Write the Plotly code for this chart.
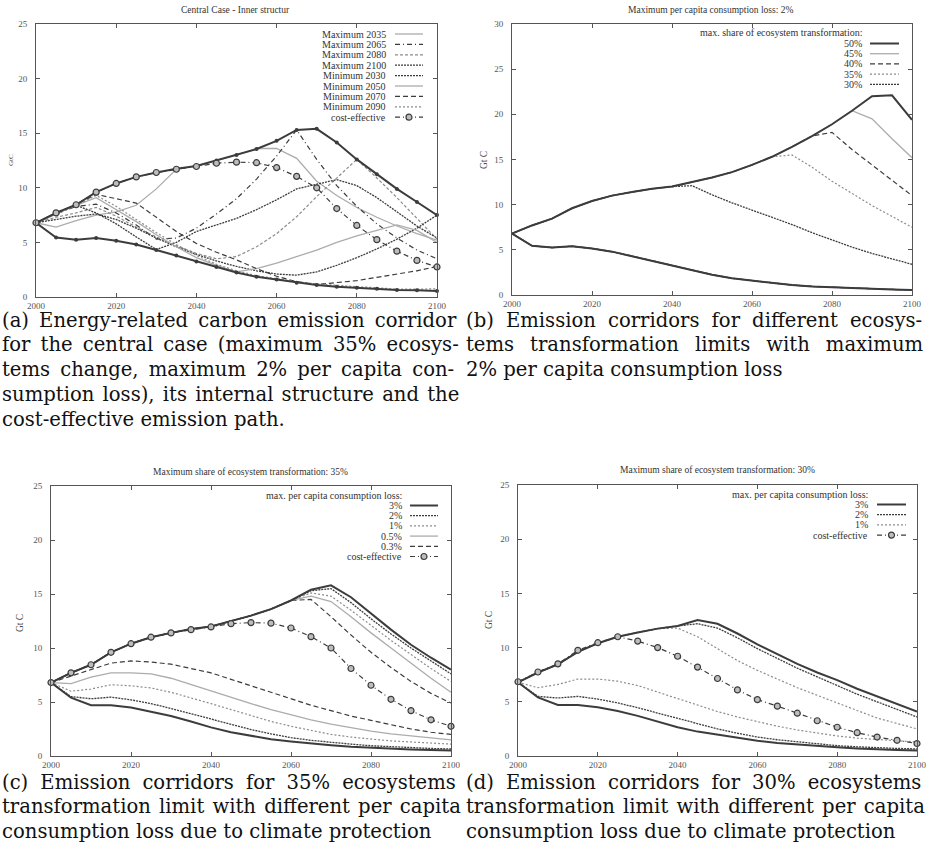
import plotly.graph_objects as go

W, H = 928, 850

# ---------------------------------------------------------------- data
YEARS = list(range(2000, 2101, 5))
X_TICKS = [2000, 2020, 2040, 2060, 2080, 2100]

# (a) central case: corridor bounds, inner structure and cost-effective path
A_UPPER = [6.8, 7.7, 8.45, 9.6, 10.4, 11.0, 11.4, 11.75, 12.0, 12.5, 13.0,
           13.55, 14.3, 15.3, 15.4, 14.15, 12.6, 11.25, 9.9, 8.7, 7.5]
A_LOWER = [6.8, 5.45, 5.25, 5.4, 5.15, 4.8, 4.3, 3.8, 3.25, 2.75, 2.25,
           1.85, 1.6, 1.3, 1.1, 0.95, 0.85, 0.75, 0.65, 0.62, 0.55]
COST_EFFECTIVE = [6.8, 7.7, 8.45, 9.6, 10.4, 11.0, 11.4, 11.7, 11.95, 12.25, 12.35,
                  12.3, 11.85, 11.05, 10.0, 8.1, 6.55, 5.25, 4.2, 3.35, 2.75]
MAX_2035 = [6.8, 6.4, 7.0, 7.5, 7.8, 8.4, 9.9, 11.7, 12.0, 12.5, 13.0,
            13.6, 13.6, 12.7, 10.6, 9.3, 8.2, 7.3, 6.5, 5.8, 5.2]
MAX_2065 = [6.8, 7.6, 8.3, 8.5, 7.7, 6.6, 5.3, 5.4, 6.3, 7.6, 9.0,
            10.8, 12.9, 15.3, 12.6, 10.2, 8.3, 6.7, 5.4, 4.3, 3.5]
MAX_2080 = [6.8, 7.3, 7.7, 8.2, 7.4, 6.4, 5.5, 4.7, 4.0, 3.5, 3.7,
            4.6, 5.8, 7.35, 9.2, 10.9, 12.6, 10.9, 9.1, 7.2, 5.3]
MAX_2100 = [6.8, 7.1, 7.4, 7.6, 7.1, 6.3, 5.4, 4.6, 3.9, 3.3, 2.8,
            2.4, 2.1, 2.0, 2.3, 2.9, 3.6, 4.4, 5.3, 6.3, 7.5]
MIN_2030 = [6.8, 7.6, 8.4, 7.7, 6.7, 5.5, 4.35, 5.0, 6.0, 6.6, 7.2,
            8.0, 8.9, 9.9, 10.3, 10.75, 10.2, 9.1, 7.8, 6.5, 5.4]
MIN_2050 = [6.8, 7.6, 8.4, 9.1, 8.0, 6.9, 5.7, 4.6, 3.6, 2.9, 2.3,
            2.6, 3.1, 3.7, 4.3, 5.0, 5.6, 6.1, 6.6, 6.1, 5.0]
MIN_2070 = [6.8, 7.7, 8.45, 9.4, 9.0, 8.6, 7.3, 6.0, 4.9, 4.1, 3.4,
            2.6, 1.9, 1.4, 1.15, 1.3, 1.5, 1.8, 2.1, 2.4, 2.8]
MIN_2090 = [6.8, 7.6, 8.4, 9.3, 8.3, 7.1, 5.9, 4.8, 3.8, 3.0, 2.4,
            1.95, 1.65, 1.4, 1.2, 1.05, 0.95, 0.85, 0.72, 0.72, 0.75]

# (b) upper bounds per ecosystem-transformation limit (2% consumption loss)
B_UPPER_50 = [6.8, 7.7, 8.45, 9.6, 10.4, 11.0, 11.4, 11.75, 12.0, 12.5, 13.0,
              13.6, 14.4, 15.3, 16.4, 17.6, 18.9, 20.4, 22.0, 22.1, 19.4]
B_UPPER_45 = [6.8, 7.7, 8.45, 9.6, 10.4, 11.0, 11.4, 11.75, 12.0, 12.5, 13.0,
              13.6, 14.4, 15.3, 16.4, 17.6, 18.9, 20.4, 19.5, 17.3, 15.2]
B_UPPER_40 = [6.8, 7.7, 8.45, 9.6, 10.4, 11.0, 11.4, 11.75, 12.0, 12.5, 13.0,
              13.6, 14.4, 15.3, 16.4, 17.6, 18.0, 16.1, 14.4, 12.7, 11.0]
B_UPPER_35 = [6.8, 7.7, 8.45, 9.6, 10.4, 11.0, 11.4, 11.75, 12.0, 12.5, 13.0,
              13.6, 14.4, 15.3, 15.5, 14.15, 12.6, 11.25, 9.9, 8.7, 7.5]
B_UPPER_30 = [6.8, 7.7, 8.45, 9.6, 10.4, 11.0, 11.4, 11.75, 12.0, 12.1, 11.1,
              10.2, 9.4, 8.6, 7.8, 6.9, 6.1, 5.3, 4.6, 4.0, 3.4]
B_LOWER = [6.8, 5.45, 5.25, 5.4, 5.15, 4.8, 4.3, 3.8, 3.25, 2.75, 2.25,
           1.85, 1.6, 1.3, 1.1, 0.95, 0.85, 0.75, 0.65, 0.62, 0.55]

# (c) 35% ecosystem transformation, different consumption-loss limits
C_UPPER_3 = [6.8, 7.7, 8.45, 9.6, 10.4, 11.0, 11.4, 11.75, 12.0, 12.5, 13.0,
             13.6, 14.4, 15.4, 15.8, 14.7, 13.2, 11.7, 10.3, 9.1, 8.0]
C_UPPER_2 = [6.8, 7.7, 8.45, 9.6, 10.4, 11.0, 11.4, 11.75, 12.0, 12.5, 13.0,
             13.6, 14.4, 15.3, 15.5, 14.2, 12.7, 11.3, 10.0, 8.8, 7.6]
C_UPPER_1 = [6.8, 7.7, 8.45, 9.6, 10.4, 11.0, 11.4, 11.75, 12.0, 12.5, 13.0,
             13.6, 14.4, 15.1, 14.8, 13.5, 12.1, 10.7, 9.4, 8.1, 6.9]
C_UPPER_05 = [6.8, 7.7, 8.45, 9.6, 10.4, 11.0, 11.4, 11.75, 12.0, 12.5, 13.0,
              13.6, 14.4, 14.8, 14.3, 12.9, 11.4, 10.0, 8.6, 7.2, 5.9]
C_UPPER_03 = [6.8, 7.7, 8.45, 9.6, 10.4, 11.0, 11.4, 11.75, 12.0, 12.5, 13.0,
              13.6, 14.4, 14.5, 12.9, 11.2, 9.6, 8.2, 6.9, 5.8, 4.9]
C_LOWER_3 = [6.8, 5.4, 4.7, 4.7, 4.5, 4.1, 3.7, 3.2, 2.65, 2.2, 1.85,
             1.55, 1.35, 1.15, 1.0, 0.85, 0.75, 0.65, 0.6, 0.55, 0.5]
C_LOWER_2 = [6.8, 5.5, 5.3, 5.45, 5.2, 4.85, 4.4, 3.9, 3.4, 2.9, 2.45,
             2.05, 1.7, 1.45, 1.25, 1.1, 0.95, 0.85, 0.75, 0.7, 0.65]
C_LOWER_1 = [6.8, 6.0, 6.2, 6.6, 6.5, 6.3, 5.9, 5.4, 4.85, 4.3, 3.75,
             3.2, 2.75, 2.35, 2.0, 1.75, 1.55, 1.4, 1.3, 1.2, 1.1]
C_LOWER_05 = [6.8, 6.7, 7.3, 7.7, 7.7, 7.6, 7.2, 6.6, 6.0, 5.4, 4.85,
              4.3, 3.8, 3.35, 2.95, 2.6, 2.3, 2.05, 1.85, 1.65, 1.5]
C_LOWER_03 = [6.8, 7.4, 8.0, 8.6, 8.8, 8.7, 8.5, 8.1, 7.7, 7.1, 6.5,
              5.9, 5.3, 4.7, 4.2, 3.7, 3.3, 2.9, 2.5, 2.2, 2.0]

# (d) 30% ecosystem transformation, different consumption-loss limits
D_UPPER_3 = [6.8, 7.7, 8.45, 9.6, 10.4, 11.0, 11.4, 11.75, 12.0, 12.55, 12.2,
             11.3, 10.3, 9.4, 8.5, 7.7, 7.0, 6.2, 5.5, 4.8, 4.1]
D_UPPER_2 = [6.8, 7.7, 8.45, 9.6, 10.4, 11.0, 11.4, 11.75, 12.0, 12.2, 11.8,
             10.9, 9.9, 9.0, 8.1, 7.3, 6.5, 5.7, 5.0, 4.3, 3.6]
D_UPPER_1 = [6.8, 7.7, 8.45, 9.6, 10.4, 11.0, 11.4, 11.75, 11.8, 11.0, 9.9,
             8.8, 7.9, 7.1, 6.3, 5.6, 4.9, 4.2, 3.5, 3.0, 2.5]
D_COST_EFFECTIVE = [6.85, 7.75, 8.5, 9.75, 10.45, 11.0, 10.6, 10.0, 9.2, 8.2, 7.15,
                    6.1, 5.2, 4.6, 3.95, 3.25, 2.65, 2.15, 1.75, 1.45, 1.15]
D_LOWER_3 = [6.8, 5.4, 4.7, 4.7, 4.5, 4.15, 3.7, 3.2, 2.65, 2.25, 1.95,
             1.65, 1.4, 1.2, 1.05, 0.9, 0.8, 0.7, 0.6, 0.55, 0.5]
D_LOWER_2 = [6.8, 5.5, 5.35, 5.5, 5.25, 4.9, 4.45, 3.95, 3.45, 2.95, 2.5,
             2.1, 1.75, 1.5, 1.3, 1.1, 0.95, 0.85, 0.75, 0.7, 0.65]
D_LOWER_1 = [6.8, 6.3, 6.6, 7.1, 7.1, 6.9, 6.5, 5.9, 5.25, 4.7, 4.1,
             3.6, 3.15, 2.75, 2.4, 2.1, 1.85, 1.65, 1.5, 1.4, 1.3]

TITLES = ["Central Case - Inner structur",
          "Maximum per capita consumption loss: 2%",
          "Maximum share of ecosystem transformation: 35%",
          "Maximum share of ecosystem transformation: 30%"]

CAPTIONS = {
    "a": ["(a) Energy-related carbon emission corridor",
          "for the central case (maximum 35% ecosys-",
          "tems change, maximum 2% per capita con-",
          "sumption loss), its internal structure and the",
          "cost-effective emission path."],
    "b": ["(b) Emission corridors for different ecosys-",
          "tems transformation limits with maximum",
          "2% per capita consumption loss"],
    "c": ["(c) Emission corridors for 35% ecosystems",
          "transformation limit with different per capita",
          "consumption loss due to climate protection"],
    "d": ["(d) Emission corridors for 30% ecosystems",
          "transformation limit with different per capita",
          "consumption loss due to climate protection"],
}

# ---------------------------------------------------------------- styles
DARK = "#3c3c3c"
LIGHT = "#acacac"
MID = "#8c8c8c"
SERIF = "Liberation Serif, Times New Roman, serif"
CAPTION_FONT = "DejaVu Serif, serif"

THIN, HAIR = "\u2009", "\u200a"
# extra word spacing per caption line, so that the block reads justified
CAPTION_GAPS = {
    "a": [THIN, THIN, THIN, HAIR, ""],
    "b": [THIN + HAIR, THIN + THIN + HAIR, ""],
    "c": [THIN + HAIR, HAIR, ""],
    "d": [THIN + HAIR, HAIR, ""],
}

STY = {
    "thick":   dict(color=DARK, width=2.0, dash="solid"),
    "dense":   dict(color=DARK, width=1.3, dash="2px,1px"),
    "dashed":  dict(color=DARK, width=1.2, dash="5px,3px"),
    "lsolid":  dict(color=LIGHT, width=1.3, dash="solid"),
    "ldot":    dict(color=MID, width=1.2, dash="2px,2px"),
    "ldash":   dict(color=MID, width=1.2, dash="3px,2px"),
    "dashdot": dict(color=DARK, width=1.2, dash="5px,3px,1px,3px"),
}

# plot-area boxes in pixels: (left, right, top, bottom)
BOX = {
    "a": (36, 437, 24, 297),
    "b": (512, 912, 24, 295),
    "c": (51, 451, 486, 756),
    "d": (518, 917, 485, 756),
}
YMAX = {"a": 25, "b": 30, "c": 25, "d": 25}
AX = {"a": ("x", "y"), "b": ("x2", "y2"), "c": ("x3", "y3"), "d": ("x4", "y4")}


def px(x):
    return x / W


def py(y):
    return 1 - y / H


fig = go.Figure()


def corridor(key, upper, lower, style):
    """Upper and lower bound of one corridor drawn as a single broken line."""
    xa, ya = AX[key]
    xs = YEARS + [None] + YEARS
    ys = upper + [None] + lower
    fig.add_trace(go.Scatter(x=xs, y=ys, mode="lines", xaxis=xa, yaxis=ya,
                             line=STY[style], showlegend=False, cliponaxis=False,
                             hoverinfo="skip"))


def path(key, values, style, markers=None):
    xa, ya = AX[key]
    tr = dict(x=YEARS, y=values, xaxis=xa, yaxis=ya, line=STY[style],
              showlegend=False, cliponaxis=False, hoverinfo="skip")
    if markers == "circle":
        tr.update(mode="lines+markers",
                  marker=dict(symbol="circle", size=6, color="#bdbdbd",
                              line=dict(color=DARK, width=1.2)))
    elif markers == "dot":
        tr.update(mode="lines+markers",
                  marker=dict(symbol="circle", size=4, color=DARK))
    else:
        tr.update(mode="lines")
    fig.add_trace(go.Scatter(**tr))


# (a)
path("a", MAX_2035, "lsolid")
path("a", MAX_2065, "dashdot")
path("a", MAX_2080, "ldash")
path("a", MAX_2100, "dense")
path("a", MIN_2030, "dense")
path("a", MIN_2050, "lsolid")
path("a", MIN_2070, "dashed")
path("a", MIN_2090, "ldot")
path("a", A_UPPER, "thick", markers="dot")
path("a", A_LOWER, "thick", markers="dot")
path("a", COST_EFFECTIVE, "dashdot", markers="circle")

# (b)
corridor("b", B_UPPER_30, B_LOWER, "dense")
corridor("b", B_UPPER_35, B_LOWER, "ldot")
corridor("b", B_UPPER_40, B_LOWER, "dashed")
corridor("b", B_UPPER_45, B_LOWER, "lsolid")
corridor("b", B_UPPER_50, B_LOWER, "thick")

# (c)
corridor("c", C_UPPER_03, C_LOWER_03, "dashed")
corridor("c", C_UPPER_05, C_LOWER_05, "lsolid")
corridor("c", C_UPPER_1, C_LOWER_1, "ldot")
corridor("c", C_UPPER_2, C_LOWER_2, "dense")
corridor("c", C_UPPER_3, C_LOWER_3, "thick")
path("c", COST_EFFECTIVE, "dashdot", markers="circle")

# (d)
corridor("d", D_UPPER_1, D_LOWER_1, "ldot")
corridor("d", D_UPPER_2, D_LOWER_2, "dense")
corridor("d", D_UPPER_3, D_LOWER_3, "thick")
path("d", D_COST_EFFECTIVE, "dashdot", markers="circle")

# ---------------------------------------------------------------- axes
layout = dict(width=W, height=H, margin=dict(l=0, r=0, t=0, b=0, autoexpand=False),
              paper_bgcolor="white", plot_bgcolor="white", showlegend=False)

tickfont = dict(family=SERIF, size=9, color="#555")
for i, key in enumerate("abcd"):
    l, r, t, b = BOX[key]
    sfx = "" if i == 0 else str(i + 1)
    common = dict(showline=True, linecolor="#555", linewidth=1, mirror="ticks",
                  ticks="inside", ticklen=4, tickcolor="#555", tickwidth=1,
                  showgrid=False, zeroline=False, tickfont=tickfont, fixedrange=True,
                  automargin=False)
    layout["xaxis" + sfx] = dict(common, domain=[px(l), px(r)], range=[2000, 2100],
                                 tickvals=X_TICKS, anchor="y" + sfx,
                                 ticklabelstandoff=0)
    layout["yaxis" + sfx] = dict(common, domain=[py(b), py(t)], range=[0, YMAX[key]],
                                 dtick=5, anchor="x" + sfx, ticklabelstandoff=6)

fig.update_layout(**layout)

# ---------------------------------------------------------------- texts
ann = []
title_pos = {"a": (236, 10), "b": (711, 10), "c": (250, 472), "d": (717, 470)}
for key, title in zip("abcd", TITLES):
    x, y = title_pos[key]
    ann.append(dict(x=px(x), y=py(y), xref="paper", yref="paper", text=title,
                    showarrow=False, xanchor="center", yanchor="middle",
                    font=dict(family=SERIF, size=9.5, color="#333")))

ylab_pos = {"a": (11, 160, 7), "b": (484, 160, 9.5), "c": (20, 623, 9.5), "d": (489, 620, 9.5)}
for key, (x, y, s) in ylab_pos.items():
    ann.append(dict(x=px(x), y=py(y), xref="paper", yref="paper",
                    text="GtC" if key == "a" else "Gt C", textangle=-90,
                    showarrow=False, xanchor="center", yanchor="middle",
                    font=dict(family=SERIF, size=s, color="#444")))

shapes = []


def legend(entries, text_right, s0, s1, y0, dy, title=None, title_y=None, title_right=None):
    if title:
        ann.append(dict(x=px(title_right), y=py(title_y), xref="paper", yref="paper",
                        text=title, showarrow=False, xanchor="right", yanchor="middle",
                        font=dict(family=SERIF, size=10, color="#333")))
    for k, (label, style, mark) in enumerate(entries):
        y = y0 + k * dy
        ann.append(dict(x=px(text_right), y=py(y), xref="paper", yref="paper",
                        text=label, showarrow=False, xanchor="right", yanchor="middle",
                        font=dict(family=SERIF, size=10, color="#333")))
        st = STY[style]
        shapes.append(dict(type="line", xref="paper", yref="paper",
                           x0=px(s0), x1=px(s1), y0=py(y), y1=py(y),
                           line=dict(color=st["color"], width=st["width"], dash=st["dash"])))
        if mark:
            c = (s0 + s1) / 2
            shapes.append(dict(type="circle", xref="paper", yref="paper",
                               x0=px(c - 3), x1=px(c + 3), y0=py(y + 3), y1=py(y - 3),
                               fillcolor="#bdbdbd", line=dict(color=DARK, width=1.2)))


legend([("Maximum 2035", "lsolid", False), ("Maximum 2065", "dashdot", False),
        ("Maximum 2080", "ldash", False), ("Maximum 2100", "dense", False),
        ("Minimum 2030", "dense", False), ("Minimum 2050", "lsolid", False),
        ("Minimum 2070", "dashed", False), ("Minimum 2090", "ldot", False),
        ("cost-effective", "dashdot", True)],
       text_right=388, s0=395, s1=423, y0=34, dy=10.4)

legend([("50%", "thick", False), ("45%", "lsolid", False), ("40%", "dashed", False),
        ("35%", "ldot", False), ("30%", "dense", False)],
       text_right=864, s0=870, s1=899, y0=43.5, dy=10.2,
       title="max. share of ecosystem transformation:", title_y=33, title_right=864)

legend([("3%", "thick", False), ("2%", "dense", False), ("1%", "ldot", False),
        ("0.5%", "lsolid", False), ("0.3%", "dashed", False),
        ("cost-effective", "dashdot", True)],
       text_right=404, s0=410, s1=438, y0=505.5, dy=10.2,
       title="max. per capita consumption loss:", title_y=495, title_right=404)

legend([("3%", "thick", False), ("2%", "dense", False), ("1%", "ldot", False),
        ("cost-effective", "dashdot", True)],
       text_right=870, s0=877, s1=906, y0=504.5, dy=10.2,
       title="max. per capita consumption loss:", title_y=494, title_right=870)

# figure captions
cap_pos = {"a": (0, 320), "b": (464, 320), "c": (0, 782), "d": (464, 782)}
for key, lines in CAPTIONS.items():
    x, y = cap_pos[key]
    for k, line in enumerate(lines):
        gap = CAPTION_GAPS[key][k]
        text = line.replace(" ", " " + gap) if gap else line
        ann.append(dict(x=px(x), y=py(y + k * 24.8), xref="paper", yref="paper",
                        text=text, showarrow=False, xanchor="left", yanchor="middle",
                        font=dict(family=CAPTION_FONT, size=19.6, color="#111")))

fig.update_layout(annotations=ann, shapes=shapes)
fig.write_html(
    "out.html",
    post_script="document.body.style.margin='0';",
)
